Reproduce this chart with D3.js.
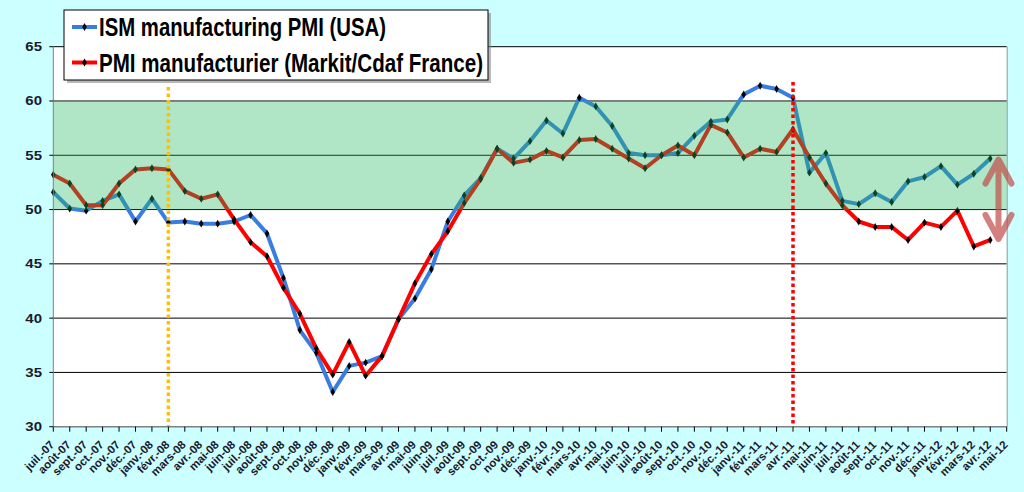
<!DOCTYPE html>
<html lang="fr">
<head>
    <meta charset="UTF-8">
    <title>PMI manufacturier USA / France</title>
    <script src="https://d3js.org/d3.v7.min.js"></script>
    <style>
        html, body { margin: 0; padding: 0; background: #ccffff; }
        svg { display: block; font-family: "Liberation Sans", Arial, sans-serif; }
    </style>
</head>
<body>
    <svg></svg>
    <script>
        // categories (monthly, juil.-07 .. mai-12)
        const months = [
            "juil.-07", "août-07", "sept.-07", "oct.-07", "nov.-07", "déc.-07",
            "janv.-08", "févr.-08", "mars-08", "avr.-08", "mai-08", "juin-08",
            "juil.-08", "août-08", "sept.-08", "oct.-08", "nov.-08", "déc.-08",
            "janv.-09", "févr.-09", "mars-09", "avr.-09", "mai-09", "juin-09",
            "juil.-09", "août-09", "sept.-09", "oct.-09", "nov.-09", "déc.-09",
            "janv.-10", "févr.-10", "mars-10", "avr.-10", "mai-10", "juin-10",
            "juil.-10", "août-10", "sept.-10", "oct.-10", "nov.-10", "déc.-10",
            "janv.-11", "févr.-11", "mars-11", "avr.-11", "mai-11", "juin-11",
            "juil.-11", "août-11", "sept.-11", "oct.-11", "nov.-11", "déc.-11",
            "janv.-12", "févr.-12", "mars-12", "avr.-12", "mai-12"
        ];

        // ISM manufacturing PMI (USA)
        const ismUSA = [
            51.6, 50.1, 49.9, 50.8, 51.4, 48.9, 51.0, 48.8, 48.9, 48.7, 48.7, 48.9,
            49.5, 47.8, 43.7, 38.9, 36.8, 33.2, 35.6, 35.9, 36.5, 39.9, 41.8, 44.5,
            48.9, 51.3, 52.9, 55.6, 54.7, 56.3, 58.2, 57.0, 60.3, 59.5, 57.7, 55.2,
            55.0, 55.0, 55.2, 56.8, 58.1, 58.3, 60.6, 61.4, 61.1, 60.3, 53.4, 55.2,
            50.8, 50.5, 51.5, 50.7, 52.6, 53.0, 54.0, 52.3, 53.3, 54.7
        ];

        // PMI manufacturier (Markit/Cdaf France)
        const pmiFrance = [
            53.2, 52.4, 50.4, 50.4, 52.4, 53.7, 53.8, 53.7, 51.7, 51.0, 51.4, 49.1,
            47.0, 45.7, 42.8, 40.4, 37.2, 34.8, 37.8, 34.7, 36.5, 39.9, 43.2, 45.9,
            48.0, 50.6, 52.8, 55.6, 54.3, 54.6, 55.4, 54.8, 56.4, 56.5, 55.6, 54.7,
            53.8, 55.0, 55.9, 55.0, 57.8, 57.1, 54.8, 55.6, 55.3, 57.4, 54.8, 52.4,
            50.4, 48.9, 48.4, 48.4, 47.2, 48.8, 48.4, 49.9, 46.6, 47.2
        ];

        const yTicks = [30, 35, 40, 45, 50, 55, 60, 65];
        const band = [50, 60];
        const markers = [
            { month: "févr.-08", color: "#ffc000", top: 87 },
            { month: "avr.-11", color: "#ff0000", top: 82 }
        ];

        const series = [
            { name: "ISM manufacturing PMI (USA)", values: ismUSA, color: "#3a7de0" },
            { name: "PMI manufacturier (Markit/Cdaf France)", values: pmiFrance, color: "#ff0000" }
        ];

        const width = 1024;
        const height = 492;
        const margin = { left: 53.3, right: 17.3, top: 46.7, bottom: 65.3 };

        const svg = d3.select("svg")
            .attr("width", width)
            .attr("height", height);

        svg.append("rect")
            .attr("width", width)
            .attr("height", height)
            .attr("fill", "#ccffff");

        const x = d3.scalePoint()
            .domain(months)
            .range([margin.left, width - margin.right]);

        const y = d3.scaleLinear()
            .domain([30, 65])
            .range([height - margin.bottom, margin.top]);

        // plot area
        svg.append("rect")
            .attr("x", margin.left)
            .attr("y", y(65))
            .attr("width", x.range()[1] - margin.left)
            .attr("height", y(30) - y(65))
            .attr("fill", "#ffffff");

        // gridlines
        svg.append("g")
            .selectAll("line")
            .data(yTicks.filter(d => d > 30))
            .join("line")
            .attr("x1", margin.left)
            .attr("x2", x.range()[1])
            .attr("y1", d => y(d))
            .attr("y2", d => y(d))
            .attr("stroke", "#000")
            .attr("stroke-width", 1);

        // right edge of plot area
        svg.append("line")
            .attr("x1", x.range()[1] + 0.5)
            .attr("x2", x.range()[1] + 0.5)
            .attr("y1", y(65))
            .attr("y2", y(30))
            .attr("stroke", "#999");

        // lines
        const line = d3.line()
            .x((d, i) => x(months[i]))
            .y(d => y(d));

        series.forEach(s => {
            svg.append("path")
                .datum(s.values)
                .attr("d", line)
                .attr("fill", "none")
                .attr("stroke", s.color)
                .attr("stroke-width", 4)
                .attr("stroke-linejoin", "round");
        });

        const diamond = d3.symbol().type(d3.symbolDiamond).size(18);
        series.forEach(s => {
            svg.append("g")
                .selectAll("path")
                .data(s.values)
                .join("path")
                .attr("transform", (d, i) => `translate(${x(months[i])},${y(d)})`)
                .attr("d", diamond)
                .attr("fill", "#000");
        });

        // green zone 50-60, drawn over the lines
        svg.append("rect")
            .attr("x", margin.left)
            .attr("y", y(band[1]))
            .attr("width", x.range()[1] - margin.left)
            .attr("height", y(band[0]) - y(band[1]))
            .attr("fill", "rgb(37,183,97)")
            .attr("fill-opacity", 0.36);

        // dotted vertical markers
        svg.append("g")
            .selectAll("line")
            .data(markers)
            .join("line")
            .attr("x1", d => x(d.month))
            .attr("x2", d => x(d.month))
            .attr("y1", d => d.top)
            .attr("y2", y(30))
            .attr("stroke", d => d.color)
            .attr("stroke-width", 3.5)
            .attr("stroke-dasharray", "3.5,3");

        // y axis
        const yAxis = svg.append("g");
        yAxis.append("line")
            .attr("x1", margin.left)
            .attr("x2", margin.left)
            .attr("y1", y(65))
            .attr("y2", y(30))
            .attr("stroke", "#808080");
        yAxis.selectAll("line.tick")
            .data(yTicks)
            .join("line")
            .attr("class", "tick")
            .attr("x1", margin.left - 4)
            .attr("x2", margin.left)
            .attr("y1", d => y(d))
            .attr("y2", d => y(d))
            .attr("stroke", "#000");
        yAxis.selectAll("text")
            .data(yTicks)
            .join("text")
            .attr("transform", d => `translate(42,${y(d)}) scale(1.2,1)`)
            .attr("dy", "0.35em")
            .attr("text-anchor", "end")
            .attr("font-size", 12.5)
            .attr("font-weight", "bold")
            .attr("fill", "#1a1a2e")
            .text(d => d);

        // x axis
        const xAxis = svg.append("g");
        xAxis.append("line")
            .attr("x1", margin.left)
            .attr("x2", x.range()[1])
            .attr("y1", y(30))
            .attr("y2", y(30))
            .attr("stroke", "#808080")
            .attr("stroke-width", 1.5);
        xAxis.selectAll("line.tick")
            .data(months)
            .join("line")
            .attr("class", "tick")
            .attr("x1", d => x(d))
            .attr("x2", d => x(d))
            .attr("y1", y(30))
            .attr("y2", y(30) + 5)
            .attr("stroke", "#000");
        xAxis.selectAll("text")
            .data(months)
            .join("text")
            .attr("transform", d => `translate(${x(d) - 1},${y(30) + 16}) rotate(-45)`)
            .attr("dy", "0.35em")
            .attr("text-anchor", "end")
            .attr("font-size", 11.5)
            .attr("font-weight", "bold")
            .attr("fill", "#1a1a2e")
            .text(d => d);

        // double arrow between the last two readings
        const last = ismUSA.length - 1;
        const ax = (x(months[last]) + x(months[last + 1])) / 2;
        const aTop = y(ismUSA[last]);
        const aBot = y(pmiFrance[last]);
        const arrow = svg.append("g")
            .attr("opacity", 0.72)
            .attr("fill", "none")
            .attr("stroke", "#c0504d")
            .attr("stroke-width", 6)
            .attr("stroke-linecap", "round")
            .attr("stroke-linejoin", "round");
        arrow.append("path")
            .attr("d", `M${ax},${aTop + 2} L${ax},${aBot - 2}`
                + ` M${ax - 13},${aTop + 25} L${ax},${aTop + 1} L${ax + 13},${aTop + 25}`
                + ` M${ax - 13},${aBot - 25} L${ax},${aBot - 1} L${ax + 13},${aBot - 25}`);

        // legend
        const lg = svg.append("g").attr("transform", "translate(64,10)");
        lg.append("rect")
            .attr("x", 3).attr("y", 3)
            .attr("width", 424).attr("height", 70)
            .attr("fill", "#888").attr("opacity", 0.6);
        lg.append("rect")
            .attr("width", 424).attr("height", 70)
            .attr("fill", "#fff")
            .attr("stroke", "#000")
            .attr("stroke-width", 1);
        const textLen = [287, 384];
        series.forEach((s, i) => {
            const yy = 17 + i * 35.5;
            lg.append("line")
                .attr("x1", 8).attr("x2", 33)
                .attr("y1", yy).attr("y2", yy)
                .attr("stroke", s.color)
                .attr("stroke-width", 4);
            lg.append("path")
                .attr("transform", `translate(20.5,${yy})`)
                .attr("d", diamond)
                .attr("fill", "#000");
            lg.append("text")
                .attr("x", 35)
                .attr("y", yy + 9)
                .attr("font-size", 26)
                .attr("font-weight", "bold")
                .attr("textLength", textLen[i])
                .attr("lengthAdjust", "spacingAndGlyphs")
                .attr("fill", "#000")
                .text(s.name);
        });
    </script>
</body>
</html>
